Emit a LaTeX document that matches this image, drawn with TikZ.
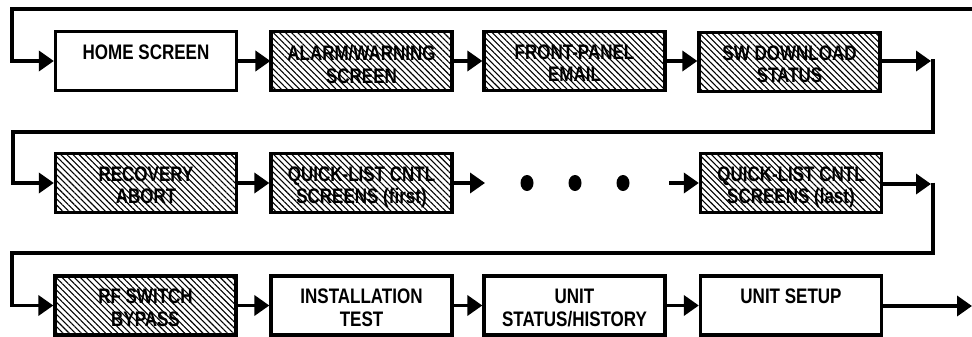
\documentclass[tikz,border=0pt]{standalone}
\usepackage{fontspec}
\newfontfamily\lblfont{Liberation Sans Bold}[FakeStretch=0.81]
\usetikzlibrary{arrows.meta,patterns.meta,shapes.geometric}
\begin{document}
\begin{tikzpicture}[x=1pt,y=-1pt,
  box/.style={draw, line width=3.3pt, minimum width=181pt, minimum height=59pt, inner sep=0pt},
  hatched/.style={box, pattern={Lines[angle=-45,distance=4.3pt,line width=1.1pt]}},
  lbl/.style={font=\lblfont\fontsize{21}{22.5}\selectfont, align=center, inner sep=0pt, anchor=north},
  link/.style={line width=3.6pt, -{Triangle[length=15pt,width=20pt]}},
  dot/.style={fill, ellipse, minimum width=13pt, minimum height=16pt, inner sep=0pt}
]
\useasboundingbox (0,0) rectangle (972,337);

% row 1
\node[box]     (home)  at (146,61)   {};
\node[hatched] (alarm) at (361.5,61) {};
\node[hatched] (front) at (574.5,61) {};
\node[hatched] (sw)    at (789.5,62) {};
% row 2
\node[hatched] (rec)   at (146,183)   {};
\node[hatched] (qlf)   at (361.5,183) {};
\node[hatched] (qll)   at (791,183)   {};
% row 3
\node[hatched] (rf)    at (145.5,305.5) {};
\node[box]     (inst)  at (361.5,305.5) {};
\node[box]     (ustat) at (574.5,305.5) {};
\node[box]     (uset)  at (791,305.5)   {};

% labels
\node[lbl] (homet)  at ([yshift=-14.5pt]home.north)  {HOME SCREEN};
\node[lbl] (alarmt) at ([yshift=-14.5pt]alarm.north) {ALARM/WARNING\\SCREEN};
\node[lbl] (frontt) at ([yshift=-14.5pt]front.north) {FRONT-PANEL\\EMAIL};
\node[lbl] (swt)    at ([yshift=-14.5pt]sw.north)    {SW DOWNLOAD\\STATUS};
\node[lbl] (rect)   at ([yshift=-14.5pt]rec.north)   {RECOVERY\\ABORT};
\node[lbl] (qlft)   at ([yshift=-14.5pt]qlf.north)   {QUICK-LIST CNTL\\SCREENS (first)};
\node[lbl] (qllt)   at ([yshift=-14.5pt]qll.north)   {QUICK-LIST CNTL\\SCREENS (last)};
\node[lbl] (rft)    at ([yshift=-14.5pt]rf.north)    {RF SWITCH\\BYPASS};
\node[lbl] (instt)  at ([yshift=-14.5pt]inst.north)  {INSTALLATION\\TEST};
\node[lbl] (ustatt) at ([yshift=-14.5pt]ustat.north) {UNIT\\STATUS/HISTORY};
\node[lbl] (usett)  at ([yshift=-14.5pt]uset.north)  {UNIT SETUP};

% ellipsis between the quick-list screens
\node[dot] (d1) at (527,183) {};
\node[dot] (d2) at (575,183) {};
\node[dot] (d3) at (623,183) {};

% routing points
\coordinate (in0) at (972,9);
\coordinate (l1)  at (12,9);
\coordinate (e1)  at (931,61);
\coordinate (c1)  at (933,59.5);
\coordinate (c2)  at (13,132);
\coordinate (e2)  at (931,184);
\coordinate (c3)  at (933,182.5);
\coordinate (c4)  at (12,253);
\coordinate (g1)  at (485,183);
\coordinate (g2)  at (669,183);
\coordinate (out) at (972,306);

% connectors
\draw[link] (in0) -- (l1) |- (home.west);
\draw[link] (home) -- (alarm);
\draw[link] (alarm) -- (front);
\draw[link] (front.east) -- (sw.west |- front.east);
\draw[link] (sw.east |- e1) -- (e1);
\draw[link] (c1) |- (c2) |- (rec.west);
\draw[link] (rec) -- (qlf);
\draw[link] (qlf.east) -- (g1);
\draw[link] (g2) -- (qll.west);
\draw[link] (qll.east |- e2) -- (e2);
\draw[link] (c3) |- (c4) |- (rf.west);
\draw[link] (rf) -- (inst);
\draw[link] (inst) -- (ustat);
\draw[link] (ustat) -- (uset);
\draw[link] (uset.east |- out) -- (out);
\end{tikzpicture}
\end{document}
